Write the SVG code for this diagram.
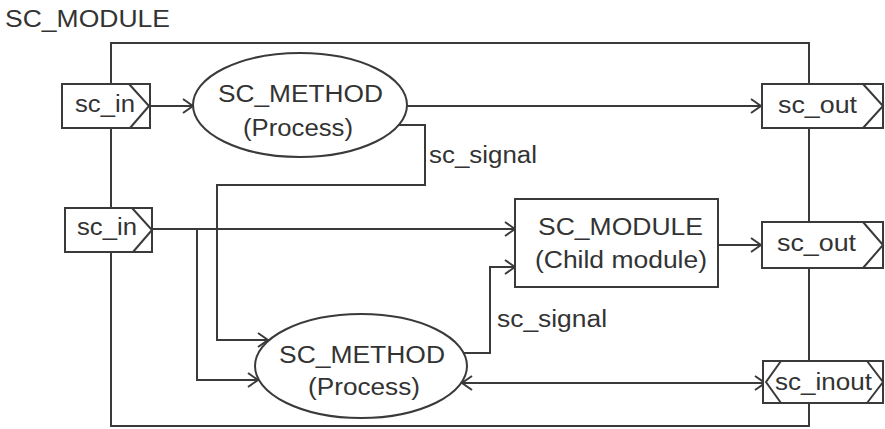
<svg xmlns="http://www.w3.org/2000/svg" width="885" height="429" viewBox="0 0 885 429">
  <style>
    .ln { fill: none; stroke: #3a3a3a; stroke-width: 2; }
    .box { fill: #ffffff; stroke: #3a3a3a; stroke-width: 2; }
    .tx { font-family: "Liberation Sans", Arial, sans-serif; font-size: 23px; fill: #333333; }
    .arr { marker-end: url(#open); }
  </style>
  <defs>
    <marker id="open" viewBox="0 0 12 16" refX="11" refY="8" markerWidth="12" markerHeight="16" markerUnits="userSpaceOnUse" orient="auto-start-reverse">
      <path d="M1,1 L11,8 L1,15" fill="none" stroke="#3a3a3a" stroke-width="2"/>
    </marker>
  </defs>
  <rect width="885" height="429" fill="#ffffff"/>

  <!-- enclosing module -->
  <g id="module">
    <text class="tx" x="5" y="27" textLength="165" lengthAdjust="spacingAndGlyphs">SC_MODULE</text>
    <rect class="ln" x="111" y="43" width="698" height="383"/>
  </g>

  <!-- connectors -->
  <g id="connectors">
    <path class="ln arr" d="M150,106 H193"/>
    <path class="ln arr" d="M407,106 H761"/>
    <path class="ln arr" d="M398,125 H425 V185 H217 V340 H268"/>
    <path class="ln arr" d="M152,229 H515"/>
    <path class="ln arr" d="M197,229 V380 H258"/>
    <path class="ln arr" d="M464,353 H490 V267 H515"/>
    <path class="ln arr" d="M718,245 H761"/>
    <path class="ln" d="M462,383 H765" marker-start="url(#open)" marker-end="url(#open)"/>
    <text class="tx" x="429" y="163" textLength="108" lengthAdjust="spacingAndGlyphs">sc_signal</text>
    <text class="tx" x="497" y="327" textLength="110" lengthAdjust="spacingAndGlyphs">sc_signal</text>
  </g>

  <!-- input ports -->
  <g id="in1">
    <rect class="box" x="62" y="84" width="88" height="44"/>
    <path class="ln" d="M129,84 L149,106 L130,128"/>
    <text class="tx" x="75" y="112" textLength="60" lengthAdjust="spacingAndGlyphs">sc_in</text>
  </g>
  <g id="in2">
    <rect class="box" x="65" y="208" width="87" height="44"/>
    <path class="ln" d="M132,208 L152,230 L133,252"/>
    <text class="tx" x="77" y="235" textLength="60" lengthAdjust="spacingAndGlyphs">sc_in</text>
  </g>

  <!-- output ports -->
  <g id="out1">
    <rect class="box" x="762" y="84" width="121" height="44"/>
    <path class="ln" d="M863,84 L883,106 L863,128"/>
    <text class="tx" x="778" y="113" textLength="79" lengthAdjust="spacingAndGlyphs">sc_out</text>
  </g>
  <g id="out2">
    <rect class="box" x="762" y="222" width="121" height="46"/>
    <path class="ln" d="M863,222 L883,245 L863,268"/>
    <text class="tx" x="777" y="251" textLength="79" lengthAdjust="spacingAndGlyphs">sc_out</text>
  </g>
  <g id="inout">
    <rect class="box" x="763" y="361" width="120" height="42"/>
    <path class="ln" d="M781,361 L766,382 L781,403"/>
    <path class="ln" d="M867,361 L883,382 L867,403"/>
    <text class="tx" x="775" y="390" textLength="97" lengthAdjust="spacingAndGlyphs">sc_inout</text>
  </g>

  <!-- processes -->
  <g id="method1">
    <ellipse class="box" cx="300" cy="105" rx="107" ry="52"/>
    <text class="tx" x="218" y="102" textLength="165" lengthAdjust="spacingAndGlyphs">SC_METHOD</text>
    <text class="tx" x="243" y="136" textLength="110" lengthAdjust="spacingAndGlyphs">(Process)</text>
  </g>
  <g id="method2">
    <ellipse class="box" cx="361" cy="366" rx="106" ry="52"/>
    <text class="tx" x="279" y="363" textLength="166" lengthAdjust="spacingAndGlyphs">SC_METHOD</text>
    <text class="tx" x="308" y="395" textLength="112" lengthAdjust="spacingAndGlyphs">(Process)</text>
  </g>

  <!-- child module -->
  <g id="child">
    <rect class="box" x="515" y="199" width="203" height="88"/>
    <text class="tx" x="538" y="235" textLength="165" lengthAdjust="spacingAndGlyphs">SC_MODULE</text>
    <text class="tx" x="535" y="268" textLength="172" lengthAdjust="spacingAndGlyphs">(Child module)</text>
  </g>
</svg>
